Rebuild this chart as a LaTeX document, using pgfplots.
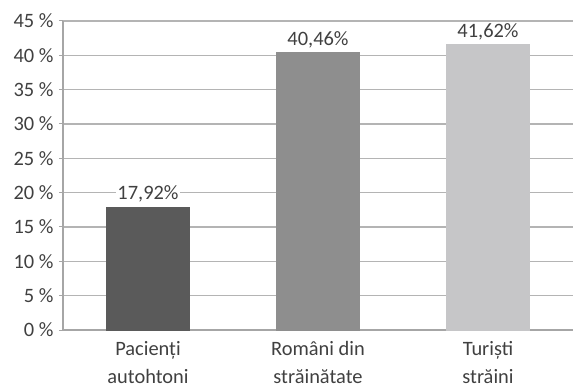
\documentclass[border=0pt]{standalone}
\usepackage{fontspec}
\setmainfont{Carlito}
\usepackage{pgfplots}
\pgfplotsset{compat=1.18}
\definecolor{barA}{HTML}{5A5A5A}
\definecolor{barB}{HTML}{8E8E8E}
\definecolor{barC}{HTML}{C6C6C8}
\definecolor{gridc}{HTML}{B4B4B4}
\definecolor{axisc}{HTML}{A6A6A6}
\definecolor{txt}{HTML}{404040}
\begin{document}
\begin{tikzpicture}
\begin{axis}[
  at={(63bp,56bp)}, anchor=south west,
  scale only axis, width=510bp, height=309bp,
  xmin=-0.5, xmax=2.5, ymin=0, ymax=45,
  /pgf/number format/assume math mode=true,
  axis x line*=bottom, axis y line*=left,
  axis line style={-, draw=axisc, line width=1.2bp},
  ytick={0,5,...,45},
  yticklabels={0~\%,5~\%,10~\%,15~\%,20~\%,25~\%,30~\%,35~\%,40~\%,45~\%},
  xtick={0,1,2},
  xticklabels={{Pacienți\\autohtoni},{Români din\\străinătate},{Turiști\\străini}},
  major x tick style={draw=none},
  extra x ticks={-0.5,0.5,1.5,2.5},
  extra x tick labels={},
  extra x tick style={major tick length=4bp, tick align=outside,
    major tick style={draw=axisc, line width=1bp}, grid=none},
  major y tick style={draw=axisc, line width=1bp},
  major tick length=4bp, tick align=outside,
  ymajorgrids, grid style={draw=gridc, line width=1.2bp},
  tick label style={font=\fontsize{20.5}{28}\selectfont, text=txt},
  yticklabel style={xshift=-2bp},
  xticklabel style={align=center, yshift=-4bp},
  ybar, bar width=83bp, bar shift=0pt,
  nodes near coords={\pgfmathprintnumber[fixed, precision=2, fixed zerofill, use comma]{\pgfplotspointmeta}\%},
  every node near coord/.append style={font=\fontsize{20.5}{25}\selectfont, text=txt,
    fill=white, inner sep=1.5bp, anchor=base, yshift=7bp},
  clip=false,
]
\addplot[fill=barA, draw=barA] coordinates {(0,17.92)};
\addplot[fill=barB, draw=barB] coordinates {(1,40.46)};
\addplot[fill=barC, draw=barC] coordinates {(2,41.62)};
\end{axis}
\pgfresetboundingbox
\path[use as bounding box] (0,0) rectangle (573bp,386bp);
\end{tikzpicture}
\end{document}
